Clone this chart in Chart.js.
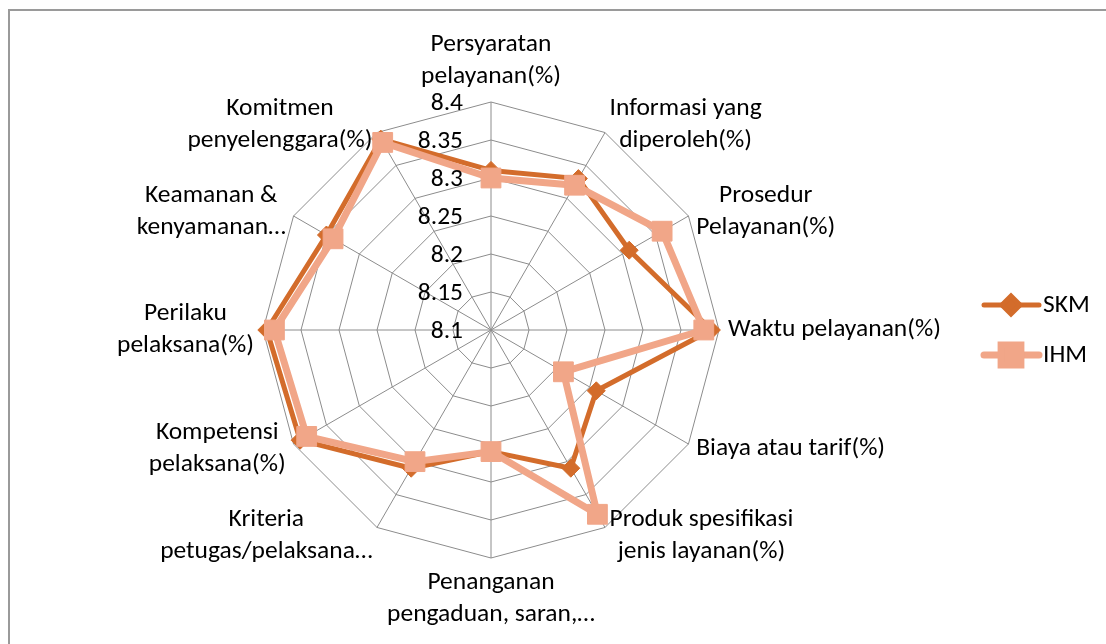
<!DOCTYPE html>
<html>
<head>
<meta charset="utf-8">
<title>SKM / IHM radar</title>
<script src="https://cdn.jsdelivr.net/npm/chart.js@4.4.0/dist/chart.umd.min.js"></script>
<style>
    html, body { margin: 0; padding: 0; background: #fff; overflow: hidden; }
    #wrap { position: relative; width: 1106px; height: 644px; }
    #frame {
        position: absolute; left: 8px; top: 9px; width: 1200px; height: 800px;
        border-left: 2px solid #9a9a9a; border-top: 2px solid #9a9a9a;
    }
    #myChart { position: absolute; left: 0; top: 0; }
</style>
</head>
<body>
<div id="wrap">
    <div id="frame"></div>
    <canvas id="myChart" width="1106" height="644"></canvas>
</div>
<script>
// 항목 (12개 축)
const categories = [
    ['Persyaratan', 'pelayanan(%)'],
    ['Informasi yang', 'diperoleh(%)'],
    ['Prosedur', 'Pelayanan(%)'],
    ['Waktu pelayanan(%)'],
    ['Biaya atau tarif(%)'],
    ['Produk spesifikasi', 'jenis layanan(%)'],
    ['Penanganan', 'pengaduan, saran,…'],
    ['Kriteria', 'petugas/pelaksana…'],
    ['Kompetensi', 'pelaksana(%)'],
    ['Perilaku', 'pelaksana(%)'],
    ['Keamanan &', 'kenyamanan…'],
    ['Komitmen', 'penyelenggara(%)']
];

const skmValues = [8.31, 8.33, 8.31, 8.39, 8.26, 8.31, 8.26, 8.31, 8.39, 8.395, 8.35, 8.39];
const ihmValues = [8.30, 8.32, 8.36, 8.38, 8.21, 8.38, 8.26, 8.30, 8.38, 8.385, 8.34, 8.385];

const seriesNames = ['SKM', 'IHM'];
const tickMin = 8.1;
const tickMax = 8.4;
const tickStep = 0.05;

const FONT = '25.5px Carlito, Lato, sans-serif';
const LINE_H = 32;

// 축 눈금 라벨 (8.1 ~ 8.4) - 축 왼쪽에 오른쪽 정렬
const tickLabelPlugin = {
    id: 'tickLabels',
    afterDraw(chart){
        const scale = chart.scales.r;
        const ctx = chart.ctx;
        ctx.save();
        ctx.font = FONT;
        ctx.fillStyle = '#000';
        ctx.textAlign = 'right';
        ctx.textBaseline = 'middle';
        for(let tick of scale.ticks){
            const d = scale.getDistanceFromCenterForValue(tick.value);
            const label = Number(tick.value.toFixed(2)).toString();
            ctx.fillText(label, scale.xCenter - 28, scale.yCenter - d + 2);
        }
        ctx.restore();
    }
};

// 항목 라벨 - 엑셀처럼 축 끝에 맞춰서 배치
const pointLabelPlugin = {
    id: 'pointLabelsXl',
    afterDraw(chart){
        const scale = chart.scales.r;
        const ctx = chart.ctx;
        const labels = chart.data.labels;
        const n = labels.length;
        ctx.save();
        ctx.font = FONT;
        ctx.fillStyle = '#000';
        ctx.textAlign = 'center';
        ctx.textBaseline = 'middle';
        labels.forEach((lines, i) => {
            const pos = scale.getPointPosition(i, scale.drawingArea + 9);
            const angle = Math.round(i * 360 / n);
            const w = Math.max(...lines.map((s) => ctx.measureText(s).width));
            const h = lines.length * LINE_H;
            let cx, top;
            if(angle === 0){
                cx = pos.x; top = pos.y - h;
            }else if(angle === 180){
                cx = pos.x; top = pos.y;
            }else if(angle < 180){
                cx = pos.x + w / 2; top = pos.y - h / 2;
            }else{
                cx = pos.x - w / 2; top = pos.y - h / 2;
            }
            lines.forEach((s, k) => {
                ctx.fillText(s, cx, top + LINE_H * k + LINE_H / 2);
            });
        });
        ctx.restore();
    }
};

// 범례 (선 + 마커)
const legendPlugin = {
    id: 'xlLegend',
    afterDraw(chart){
        const ctx = chart.ctx;
        ctx.save();
        chart.data.datasets.forEach((ds, i) => {
            const y = 305 + i * 50;
            ctx.strokeStyle = ds.borderColor;
            ctx.lineWidth = ds.borderWidth;
            ctx.lineCap = 'round';
            ctx.beginPath();
            ctx.moveTo(984, y);
            ctx.lineTo(1039, y);
            ctx.stroke();
            ctx.fillStyle = ds.pointBackgroundColor;
            ctx.strokeStyle = ds.pointBorderColor;
            Chart.helpers.drawPoint(ctx, {
                pointStyle: ds.pointStyle,
                radius: ds.pointRadius,
                rotation: 0,
                borderWidth: 1
            }, 1011, y);
            ctx.fillStyle = '#000';
            ctx.font = FONT;
            ctx.textAlign = 'left';
            ctx.textBaseline = 'middle';
            ctx.fillText(ds.label, 1043, y + 1);
        });
        ctx.restore();
    }
};

const skmColor = '#D36C2B';
const ihmColor = '#F1A688';

const config = {
    type: 'radar',
    data: {
        labels: categories,
        datasets: [
            {
                label: seriesNames[0],
                data: skmValues,
                borderColor: skmColor,
                backgroundColor: skmColor,
                borderWidth: 5,
                fill: false,
                pointStyle: 'rectRot',
                pointRadius: 9,
                pointBackgroundColor: skmColor,
                pointBorderColor: skmColor,
                pointBorderWidth: 1,
                order: 1,
                clip: false
            },
            {
                label: seriesNames[1],
                data: ihmValues,
                borderColor: ihmColor,
                backgroundColor: ihmColor,
                borderWidth: 7,
                fill: false,
                pointStyle: 'rect',
                pointRadius: 14,
                pointBackgroundColor: ihmColor,
                pointBorderColor: ihmColor,
                pointBorderWidth: 1,
                order: 0,
                clip: false
            }
        ]
    },
    options: {
        responsive: false,
        animation: false,
        layout: {
            padding: { top: 102, bottom: 86, left: 263, right: 387 }
        },
        elements: {
            line: { tension: 0, borderJoinStyle: 'round' }
        },
        plugins: {
            legend: { display: false },
            tooltip: { enabled: false }
        },
        scales: {
            r: {
                min: tickMin,
                max: tickMax,
                ticks: { stepSize: tickStep, display: false },
                grid: { color: '#8c8c8c', lineWidth: 1 },
                angleLines: { color: '#8c8c8c', lineWidth: 1 },
                pointLabels: { display: false }
            }
        }
    },
    plugins: [tickLabelPlugin, pointLabelPlugin, legendPlugin]
};

const myChart = new Chart(document.getElementById('myChart'), config);
</script>
</body>
</html>
